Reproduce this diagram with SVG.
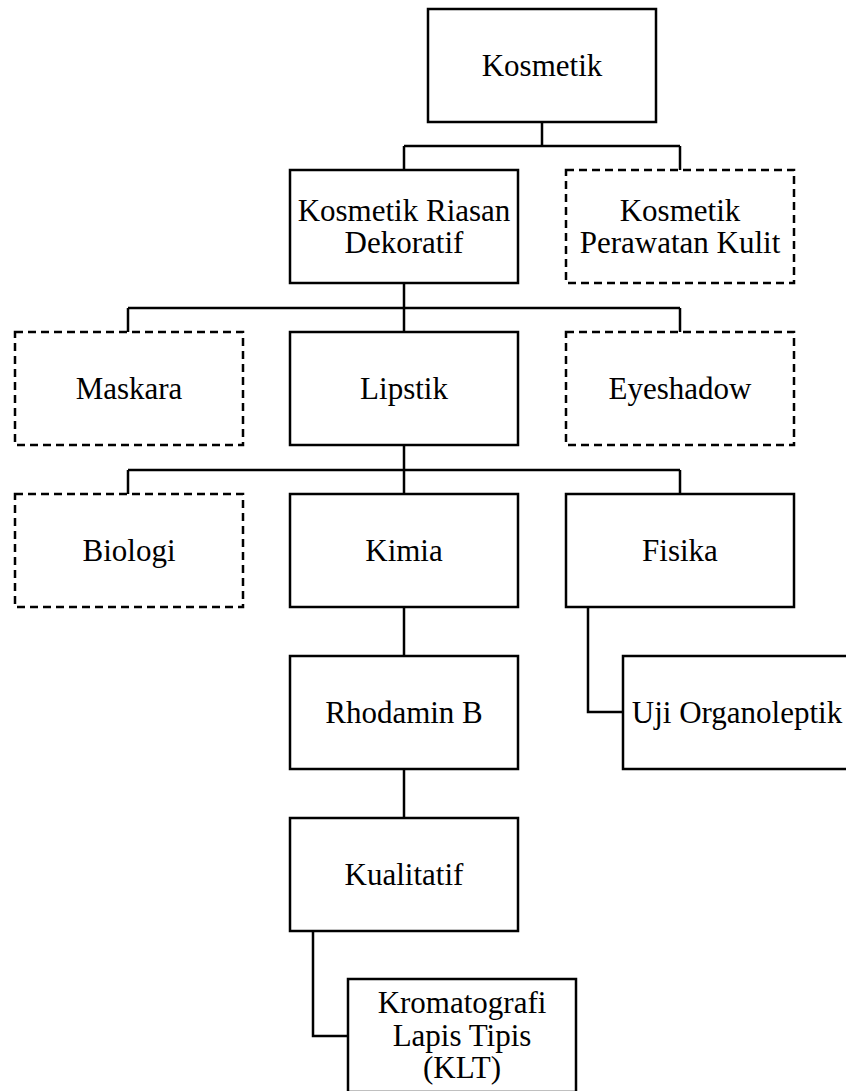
<svg xmlns="http://www.w3.org/2000/svg" width="846" height="1091" viewBox="0 0 846 1091">
<style>
.box{fill:#fff;stroke:#000;stroke-width:2.5}
.dash{fill:#fff;stroke:#000;stroke-width:2.5;stroke-dasharray:8 5}
.lbl{font-family:"Liberation Serif","Times New Roman",serif;font-size:31px;fill:#000;text-anchor:middle}
.con{fill:none;stroke:#000;stroke-width:2.5}
</style>
<rect width="846" height="1091" fill="#fff"/>
<g id="connectors">
<path class="con" d="M542 122V146M404 146H680M404 146V170M680 146V170"/>
<path class="con" d="M404 283V308M128 308H680M128 308V332M404 308V332M680 308V332"/>
<path class="con" d="M404 445V470M128 470H680M128 470V494M404 470V494M680 470V494"/>
<path class="con" d="M404 607V656"/>
<path class="con" d="M588 607V712H623"/>
<path class="con" d="M404 769V818"/>
<path class="con" d="M313 931V1036H348"/>
</g>
<g id="kosmetik"><rect class="box" x="428" y="9" width="228" height="113"/><text class="lbl" x="542" y="76">Kosmetik</text></g>
<g id="riasan"><rect class="box" x="290" y="170" width="228" height="113"/><text class="lbl" x="404" y="221">Kosmetik Riasan</text><text class="lbl" x="404" y="253">Dekoratif</text></g>
<g id="perawatan"><rect class="dash" x="566" y="170" width="228" height="113"/><text class="lbl" x="680" y="221">Kosmetik</text><text class="lbl" x="680" y="253">Perawatan Kulit</text></g>
<g id="maskara"><rect class="dash" x="15" y="332" width="228" height="113"/><text class="lbl" x="129" y="399">Maskara</text></g>
<g id="lipstik"><rect class="box" x="290" y="332" width="228" height="113"/><text class="lbl" x="404" y="399">Lipstik</text></g>
<g id="eyeshadow"><rect class="dash" x="566" y="332" width="228" height="113"/><text class="lbl" x="680" y="399">Eyeshadow</text></g>
<g id="biologi"><rect class="dash" x="15" y="494" width="228" height="113"/><text class="lbl" x="129" y="561">Biologi</text></g>
<g id="kimia"><rect class="box" x="290" y="494" width="228" height="113"/><text class="lbl" x="404" y="561">Kimia</text></g>
<g id="fisika"><rect class="box" x="566" y="494" width="228" height="113"/><text class="lbl" x="680" y="561">Fisika</text></g>
<g id="rhodamin"><rect class="box" x="290" y="656" width="228" height="113"/><text class="lbl" x="404" y="723">Rhodamin B</text></g>
<g id="uji"><rect class="box" x="623" y="656" width="228" height="113"/><text class="lbl" x="737" y="723">Uji Organoleptik</text></g>
<g id="kualitatif"><rect class="box" x="290" y="818" width="228" height="113"/><text class="lbl" x="404" y="885">Kualitatif</text></g>
<g id="klt"><rect class="box" x="348" y="979" width="228" height="113"/><text class="lbl" x="462" y="1013">Kromatografi</text><text class="lbl" x="462" y="1046">Lapis Tipis</text><text class="lbl" x="462" y="1078">(KLT)</text></g>
</svg>
